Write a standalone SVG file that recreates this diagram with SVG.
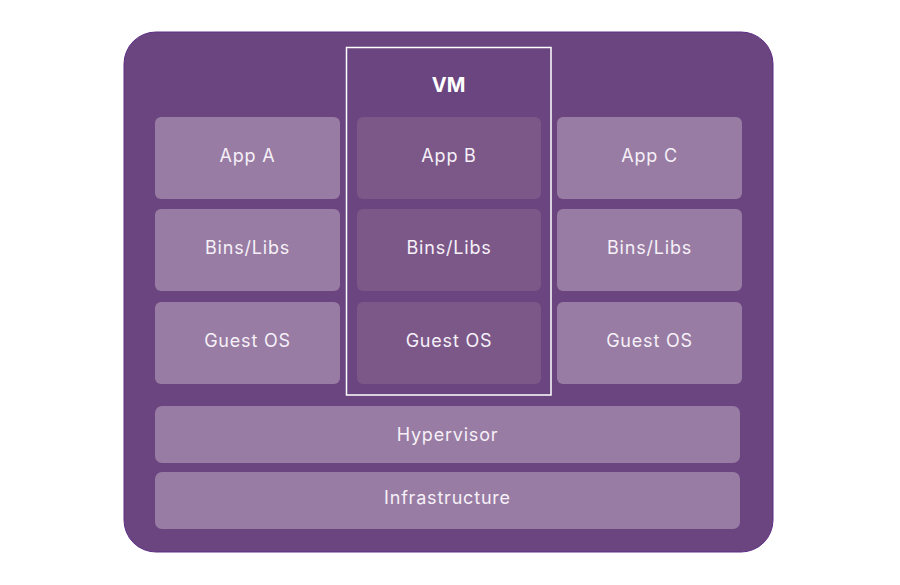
<svg xmlns="http://www.w3.org/2000/svg" width="900" height="585" viewBox="0 0 900 585">
<style>
.box{fill:#987ca3;}
.vmbox{fill:#7c5889;}
.lbl{font-family:"Inter","Noto Sans","Liberation Sans",sans-serif;font-size:18px;letter-spacing:0.8px;fill:#f6f0f8;text-anchor:middle;dominant-baseline:central;}
.title{font-family:"Inter","Noto Sans","Liberation Sans",sans-serif;font-size:20px;font-weight:700;fill:#ffffff;text-anchor:middle;dominant-baseline:central;}
</style>
<rect x="0" y="0" width="900" height="585" fill="#ffffff"/>
<g id="host">
<rect x="124" y="32" width="649" height="520" rx="32" fill="#6b457f" stroke="#5e2d86" stroke-width="1"/>
</g>
<g id="vm-frame">
<rect x="346.5" y="47.5" width="204.5" height="347.5" fill="none" stroke="#ffffff" stroke-width="1.5"/>
<text class="title" x="448.5" y="85">VM</text>
</g>
<g id="app-a"><rect class="box" x="155" y="117" width="185" height="82" rx="6"/><text class="lbl" x="247.5" y="155">App A</text></g>
<g id="bins-a"><rect class="box" x="155" y="209" width="185" height="82" rx="6"/><text class="lbl" x="247.5" y="247">Bins/Libs</text></g>
<g id="os-a"><rect class="box" x="155" y="302" width="185" height="82" rx="6"/><text class="lbl" x="247.5" y="340">Guest OS</text></g>
<g id="app-b"><rect class="vmbox" x="357" y="117" width="184" height="82" rx="6"/><text class="lbl" x="449" y="155">App B</text></g>
<g id="bins-b"><rect class="vmbox" x="357" y="209" width="184" height="82" rx="6"/><text class="lbl" x="449" y="247">Bins/Libs</text></g>
<g id="os-b"><rect class="vmbox" x="357" y="302" width="184" height="82" rx="6"/><text class="lbl" x="449" y="340">Guest OS</text></g>
<g id="app-c"><rect class="box" x="557" y="117" width="185" height="82" rx="6"/><text class="lbl" x="649.5" y="155">App C</text></g>
<g id="bins-c"><rect class="box" x="557" y="209" width="185" height="82" rx="6"/><text class="lbl" x="649.5" y="247">Bins/Libs</text></g>
<g id="os-c"><rect class="box" x="557" y="302" width="185" height="82" rx="6"/><text class="lbl" x="649.5" y="340">Guest OS</text></g>
<g id="hypervisor"><rect class="box" x="155" y="406" width="585" height="57" rx="7"/><text class="lbl" x="447.5" y="434">Hypervisor</text></g>
<g id="infrastructure"><rect class="box" x="155" y="472" width="585" height="57" rx="7"/><text class="lbl" x="447.5" y="497">Infrastructure</text></g>
<g id="connectors"></g>
</svg>
